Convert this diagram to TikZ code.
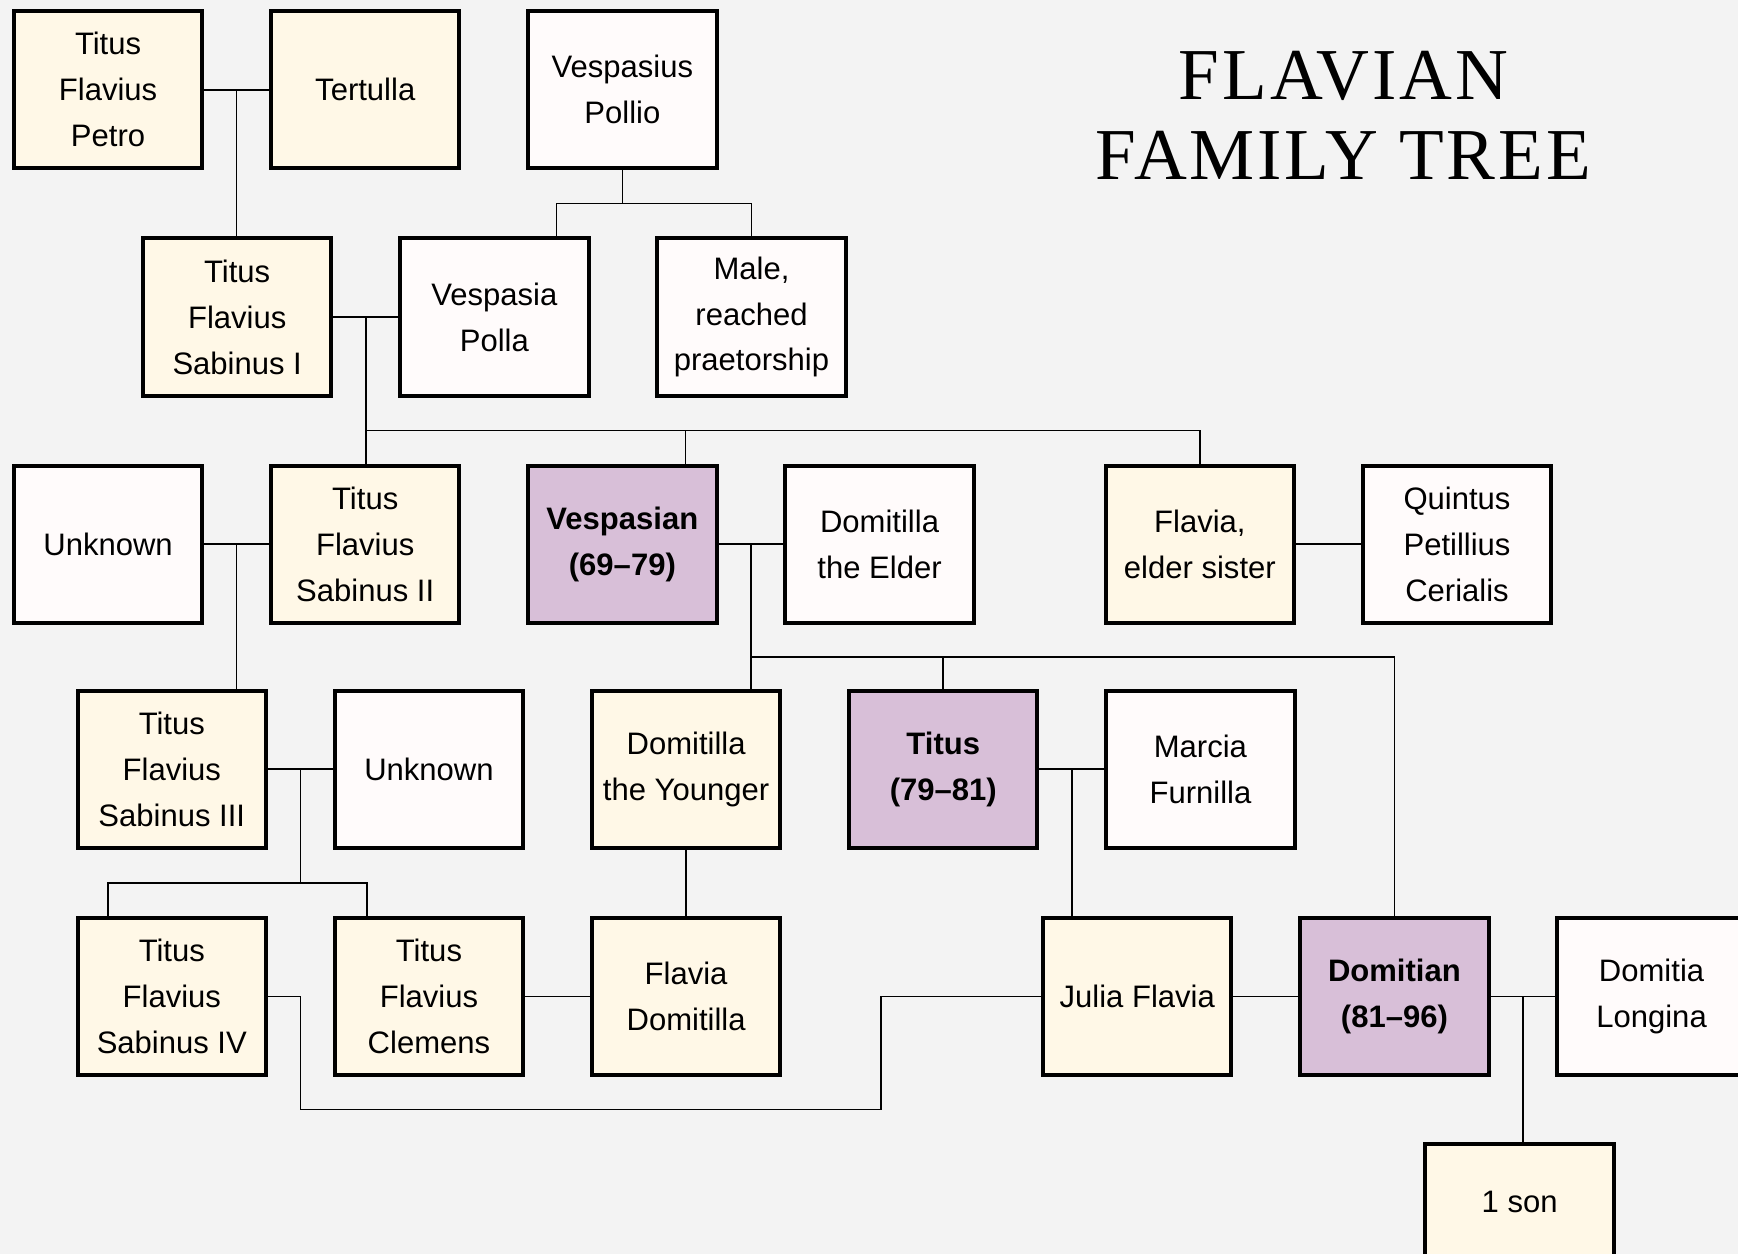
\documentclass[tikz,border=0pt]{standalone}
\usepackage{fontspec}
\setmainfont{Liberation Sans}
\newfontfamily\titlefont[LetterSpace=4]{Liberation Serif}
\usetikzlibrary{positioning,calc}
\definecolor{bgcol}{HTML}{F3F3F3}
\definecolor{creamfill}{HTML}{FFF8E7}
\definecolor{whitefill}{HTML}{FFFBFB}
\definecolor{purplefill}{HTML}{D8BFD8}

\begin{document}
\begin{tikzpicture}[x=0.5pt,y=-0.5pt,node distance=31.5pt and 31pt,
	personbox/.style={draw,line width=1.8pt,minimum width=85pt,minimum height=71pt,inner sep=0pt,outer sep=0pt,align=center,font=\fontsize{14}{20.7}\selectfont},
	kin/.style={personbox,fill=creamfill},
	inlaw/.style={personbox,fill=whitefill},
	emperor/.style={personbox,fill=purplefill,font=\fontsize{14}{20.7}\selectfont\bfseries},
	link/.style={line width=0.75pt}]
	
	\useasboundingbox (0,0) rectangle (1568,1131);
	\clip (0,0) rectangle (1568,1131);
	\fill[bgcol] (0,0) rectangle (1568,1131);
	
	\node[font=\titlefont\fontsize{33}{36}\selectfont,align=center] (title) at (1212,104) {FLAVIAN\\FAMILY TREE};
	
	\node[kin]  (petro)  at (97.5,81) {Titus\\Flavius\\Petro};
	\node[kin]  (tertulla)  [right=of petro] {Tertulla};
	\node[inlaw]  (pollio)  [right=of tertulla] {Vespasius\\Pollio};
	
	\node[kin]  (sabinusI)  at (214,286) {Titus\\Flavius\\Sabinus I};
	\node[inlaw]  (polla)  [right=of sabinusI] {Vespasia\\Polla};
	\node[inlaw]  (praetor)  [right=of polla] {Male,\\reached\\praetorship};
	
	\node[inlaw]  (unknownA)  at (97.5,491) {Unknown};
	\node[kin]  (sabinusII)  [right=of unknownA] {Titus\\Flavius\\Sabinus II};
	\node[emperor]  (vespasian)  [right=of sabinusII] {Vespasian\\(69–79)};
	\node[inlaw]  (domelder)  [right=of vespasian] {Domitilla\\the Elder};
	\node[kin]  (flavia)  [right=59.5pt of domelder] {Flavia,\\elder sister};
	\node[inlaw]  (cerialis)  [right=of flavia] {Quintus\\Petillius\\Cerialis};
	
	\node[kin]  (sabinusIII)  at (155,694) {Titus\\Flavius\\Sabinus III};
	\node[inlaw]  (unknownB)  [right=of sabinusIII] {Unknown};
	\node[kin]  (domyounger)  [right=of unknownB] {Domitilla\\the Younger};
	\node[emperor]  (titus)  [right=of domyounger] {Titus\\(79–81)};
	\node[inlaw]  (furnilla)  [right=of titus] {Marcia\\Furnilla};
	
	\node[kin]  (sabinusIV)  [below=of sabinusIII] {Titus\\Flavius\\Sabinus IV};
	\node[kin]  (clemens)  [right=of sabinusIV] {Titus\\Flavius\\Clemens};
	\node[kin]  (fdomitilla)  [right=of clemens] {Flavia\\Domitilla};
	\node[kin]  (julia)  [right=118.5pt of fdomitilla] {Julia Flavia};
	\node[emperor]  (domitian)  [right=of julia] {Domitian\\(81–96)};
	\node[inlaw]  (longina)  [right=of domitian] {Domitia\\Longina};
	
	\node[kin,minimum height=52pt]  (son)  at (1371,1084) {1 son};
	
	% marriages and descent lines
	\coordinate (mA) at ($(petro.east)!.5!(tertulla.west)$);
	\coordinate (mB) at ($(sabinusI.east)!.5!(polla.west)$);
	\coordinate (mC) at ($(unknownA.east)!.5!(sabinusII.west)$);
	\coordinate (mD) at ($(vespasian.east)!.5!(domelder.west)$);
	\coordinate (mE) at ($(sabinusIII.east)!.5!(unknownB.west)$);
	\coordinate (mF) at ($(titus.east)!.5!(furnilla.west)$);
	\coordinate (mG) at ($(domitian.east)!.5!(longina.west)$);
	\coordinate (forkA) at ($(pollio.south)!.5!(pollio.south |- polla.north)$);
	\coordinate (forkB) at ($(polla.south)!.5!(polla.south |- sabinusII.north)$);
	\coordinate (forkD) at ($(vespasian.south)!.5!(vespasian.south |- titus.north)$);
	\coordinate (forkE) at ($(sabinusIII.south)!.5!(sabinusIV.north)$);
	\coordinate (pollaTop) at ($(polla.north)!.66!(polla.north east)$);
	\coordinate (vespTop) at ($(vespasian.north)!.67!(vespasian.north east)$);
	\coordinate (sabIVTop) at ($(sabinusIV.north)!.68!(sabinusIV.north west)$);
	\coordinate (clemensTop) at ($(clemens.north)!.66!(clemens.north west)$);
	\coordinate (detour) at ($(domelder |- sabinusIV.south)+(1.5,31)$);
	
	\draw[link] (petro) -- (tertulla);
	\draw[link] (mA) -- (mA |- sabinusI.north);
	\draw[link] (pollio) -- (forkA);
	\draw[link] (pollaTop) |- (forkA) -| (praetor.north);
	
	\draw[link] (sabinusI) -- (polla);
	\draw[link] (mB) -- (mB |- sabinusII.north);
	\draw[link] (mB |- forkB) -| (flavia.north);
	\draw[link] (vespTop) -- (vespTop |- forkB);
	
	\draw[link] (unknownA) -- (sabinusII);
	\draw[link] (mC) -- (mC |- sabinusIII.north);
	\draw[link] (vespasian) -- (domelder);
	\draw[link] (mD) -- (mD |- domyounger.north);
	\draw[link] (mD |- forkD) -| (domitian.north);
	\draw[link] (titus.north) -- (titus.north |- forkD);
	\draw[link] (flavia) -- (cerialis);
	
	\draw[link] (sabinusIII) -- (unknownB);
	\draw[link] (mE) -- (mE |- forkE);
	\draw[link] (sabIVTop) |- (forkE) -| (clemensTop);
	\draw[link] (domyounger) -- (fdomitilla);
	\draw[link] (titus) -- (furnilla);
	\draw[link] (mF) -- (mF |- julia.north);
	
	\draw[link] (clemens) -- (fdomitilla);
	\draw[link] (julia) -- (domitian);
	\draw[link] (domitian) -- (longina);
	\draw[link] (mG) -- (mG |- son.north);
	\draw[link] (sabinusIV.east) -| (mE |- detour) -- (detour) |- (julia.west);
\end{tikzpicture}
\end{document}
